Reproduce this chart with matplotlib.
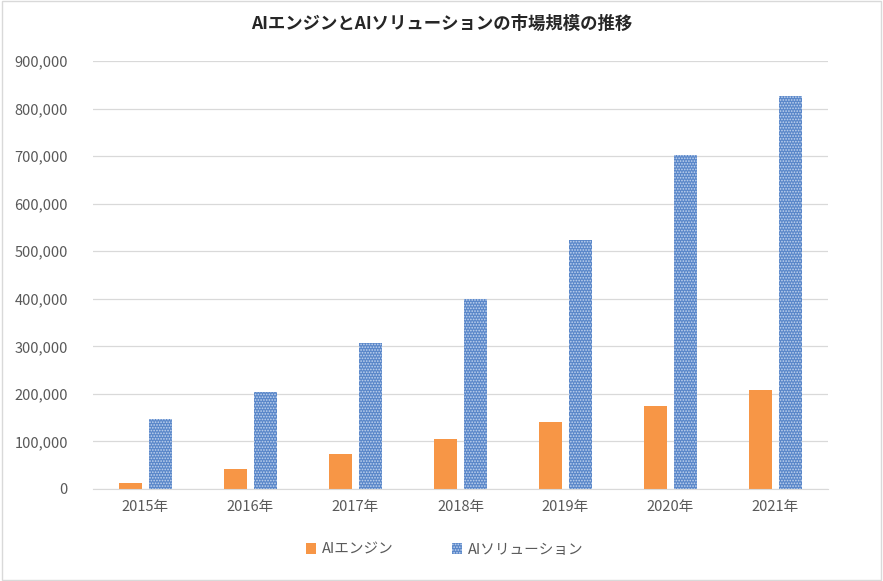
import numpy as np
import matplotlib
matplotlib.use("Agg")
import matplotlib.pyplot as plt
from matplotlib.ticker import FuncFormatter

plt.rcParams['font.family'] = ['Noto Sans CJK JP', 'DejaVu Sans']
plt.rcParams['hatch.linewidth'] = 0.8

years = ['2015年', '2016年', '2017年', '2018年', '2019年', '2020年', '2021年']
engine = [12000, 42000, 74000, 105000, 141000, 175000, 208000]
solution = [147000, 205000, 308000, 399000, 524000, 702000, 826000]

fig = plt.figure(figsize=(8.83, 5.81), dpi=100)
ax = fig.add_axes([93 / 883, 92 / 581, 735 / 883, 428 / 581])

x = np.arange(len(years))
w = 0.22
ax.bar(x - 0.143, engine, w, color='#f79646', label='AIエンジン')
ax.bar(x + 0.143, solution, w, color='#5a87c9', edgecolor='#c3d5ef',
       hatch='......', linewidth=0, label='AIソリューション')

ax.set_xlim(-0.5, len(years) - 0.5)
ax.set_ylim(0, 900000)
ax.set_yticks(range(0, 900001, 100000))
ax.yaxis.set_major_formatter(FuncFormatter(lambda v, p: f'{int(v):,}'))
ax.set_xticks(x)
ax.set_xticklabels(years)
ax.grid(axis='y', color='#d9d9d9', linewidth=0.9)
ax.set_axisbelow(True)
for s in ['top', 'right', 'left']:
    ax.spines[s].set_visible(False)
ax.spines['bottom'].set_color('#d9d9d9')
ax.tick_params(axis='both', length=0, labelsize=10.5, colors='#595959', pad=8)
ax.tick_params(axis='y', pad=18)

fig.suptitle('AIエンジンとAIソリューションの市場規模の推移', y=0.975,
             fontsize=12.5, fontweight='bold', color='#262626')
fig.legend(loc='center', bbox_to_anchor=(0.504, 0.054), ncol=2, frameon=False,
           fontsize=10.5, handlelength=0.7, handleheight=0.7,
           columnspacing=4, labelcolor='#595959', handletextpad=0.4)

fig.patches.append(plt.Rectangle((0.002, 0.002), 0.996, 0.996, transform=fig.transFigure,
                                 fill=False, edgecolor='#d9d9d9', linewidth=1))

fig.savefig('out.png', dpi=100)
